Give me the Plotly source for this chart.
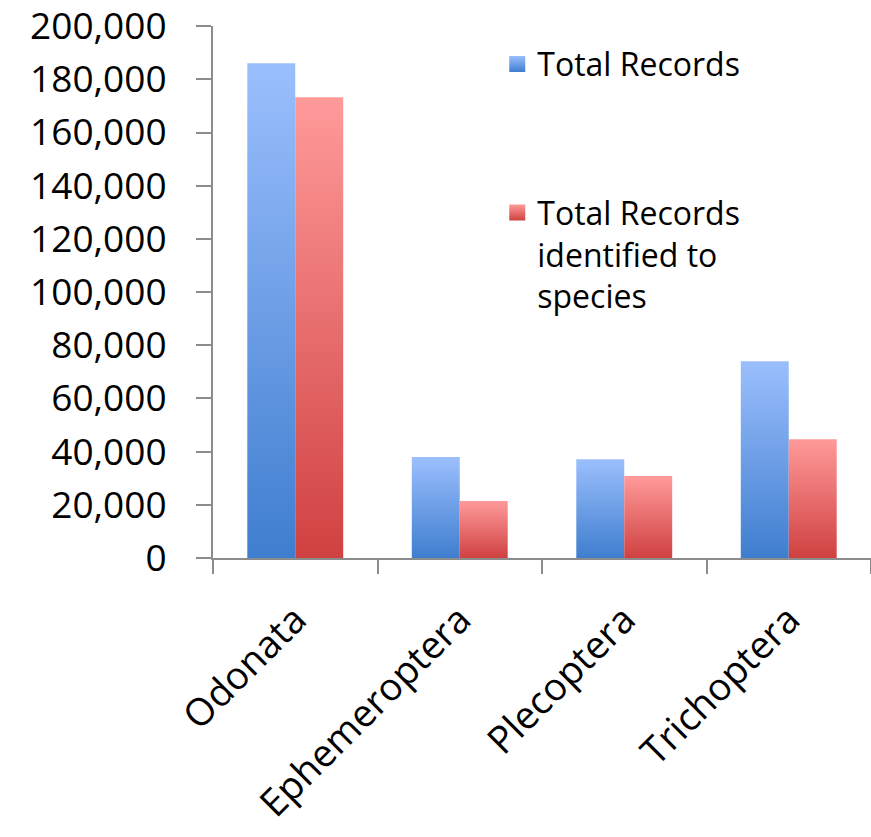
import plotly.graph_objects as go

# ---- data ----
categories = ["Odonata", "Ephemeroptera", "Plecoptera", "Trichoptera"]
total_records = [186000, 38000, 37100, 74000]
species_records = [173300, 21400, 30800, 44700]
series_names = ["Total Records", "Total Records<br>identified to<br>species"]
y_ticks = [0, 20000, 40000, 60000, 80000, 100000, 120000, 140000, 160000, 180000, 200000]

# ---- styling ----
BAR_W = 0.2915
AXIS_GRAY = "#8C8C8C"
FONT = "Open Sans"
series_style = [
    dict(light="#9BBFFD", dark="#3F7ECF", side=0),
    dict(light="#FF9A9A", dark="#D04141", side=1),
]

fig = go.Figure()

for s, vals in enumerate([total_records, species_records]):
    st = series_style[s]
    for i, v in enumerate(vals):
        x0 = i - BAR_W if st["side"] == 0 else i
        x1 = x0 + BAR_W
        fig.add_trace(go.Scatter(
            x=[x0, x1, x1, x0, x0], y=[0, 0, v, v, 0],
            mode="lines", line=dict(width=0, color=st["dark"]),
            fill="toself",
            fillgradient=dict(type="vertical",
                              colorscale=[[0, st["dark"]], [1, st["light"]]]),
            showlegend=False, legendgroup=str(s), hoverinfo="skip",
        ))
    # legend entry
    fig.add_trace(go.Scatter(
        x=[None], y=[None], mode="markers", name=series_names[s],
        legendgroup=str(s),
        marker=dict(symbol="square", size=16, color=st["light"],
                    gradient=dict(type="vertical", color=st["dark"]),
                    line=dict(width=0)),
    ))

fig.update_layout(
    width=871, height=837,
    margin=dict(l=213, r=0, t=26, b=279, pad=0, autoexpand=False),
    paper_bgcolor="white", plot_bgcolor="white",
    font=dict(family=FONT, color="black"),
    showlegend=True,
    legend=dict(x=0.432, y=0.98, xanchor="left", yanchor="top",
                valign="top", tracegroupgap=104,
                font=dict(size=32, family=FONT, color="black"),
                bgcolor="rgba(0,0,0,0)"),
    xaxis=dict(
        range=[-0.5, 3.5], tickmode="array", tickvals=list(range(len(categories))),
        ticktext=categories, tickangle=-45, ticks="", ticklabelstandoff=22,
        showline=True, linecolor=AXIS_GRAY, linewidth=2,
        showgrid=False, zeroline=False, automargin=False,
        tickfont=dict(size=38, family=FONT, color="black"),
        minor=dict(tickmode="array", tickvals=[-0.5, 0.5, 1.5, 2.5, 3.5],
                   ticks="outside", ticklen=14, tickwidth=2,
                   tickcolor=AXIS_GRAY, showgrid=False),
        fixedrange=True,
    ),
    yaxis=dict(
        range=[0, 200050], tickmode="array", tickvals=y_ticks, tickformat=",",
        ticks="outside", ticklen=15, tickwidth=2, tickcolor=AXIS_GRAY,
        ticklabelstandoff=22, ticklabeloverflow="allow",
        showline=True, linecolor=AXIS_GRAY, linewidth=2,
        showgrid=False, zeroline=False, automargin=False,
        tickfont=dict(size=37, family=FONT, color="black"),
        fixedrange=True,
    ),
)

fig.write_html("out.html")
